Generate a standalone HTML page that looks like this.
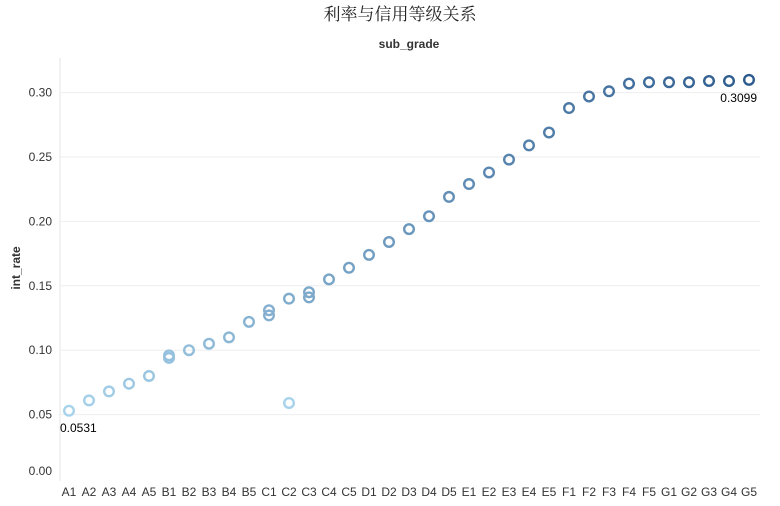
<!DOCTYPE html>
<html><head><meta charset="utf-8"><style>
body{margin:0;background:#fff;}
svg text{font-family:"Liberation Sans","Noto Sans CJK SC",sans-serif;}
</style></head><body>
<svg id="chart" width="780" height="501">
<text x="400" y="20" text-anchor="middle" font-size="17" fill="#222" style="font-family:'Noto Serif CJK SC',serif">利率与信用等级关系</text>
<text x="409" y="48" text-anchor="middle" font-size="12" font-weight="bold" fill="#333">sub_grade</text>
<text transform="translate(20,268) rotate(-90)" text-anchor="middle" font-size="12" font-weight="bold" fill="#333">int_rate</text>
<line x1="60" y1="58" x2="60" y2="481" stroke="#e6e6e6"/>
<g id="grid"></g><g id="ticks"></g><g id="marks"></g>
<text x="60" y="432" font-size="12" fill="#000">0.0531</text>
<text x="757" y="102" text-anchor="end" font-size="12" fill="#000">0.3099</text>
</svg>
<script>
const categories=["A1","A2","A3","A4","A5","B1","B2","B3","B4","B5","C1","C2","C3","C4","C5","D1","D2","D3","D4","D5","E1","E2","E3","E4","E5","F1","F2","F3","F4","F5","G1","G2","G3","G4","G5"];
const rates=[[0.053],[0.061],[0.068],[0.074],[0.080],[0.094,0.096],[0.100],[0.105],[0.110],[0.122],[0.127,0.131],[0.140,0.059],[0.141,0.145],[0.155],[0.164],[0.174],[0.184],[0.194],[0.204],[0.219],[0.229],[0.238],[0.248],[0.259],[0.269],[0.288],[0.297],[0.301],[0.307],[0.308],[0.308],[0.308],[0.309],[0.309],[0.3099]];
const yTicks=[0,0.05,0.10,0.15,0.20,0.25,0.30];
const yTickLabels=["0.00","0.05","0.10","0.15","0.20","0.25","0.30"];
const NS="http://www.w3.org/2000/svg";
const y=v=>479-v*1288;
const x=i=>69+i*20;
const grid=document.getElementById('grid'),ticks=document.getElementById('ticks'),marks=document.getElementById('marks');
yTicks.forEach((t,i)=>{
 if(t>0){const l=document.createElementNS(NS,'line');
 l.setAttribute('x1',60);l.setAttribute('x2',760);l.setAttribute('y1',y(t));l.setAttribute('y2',y(t));
 l.setAttribute('stroke','#eeeeee');
 
 
 grid.appendChild(l);}
 const tx=document.createElementNS(NS,'text');
 tx.setAttribute('x',52);tx.setAttribute('y',Math.min(y(t)+4,475));tx.setAttribute('text-anchor','end');
 tx.setAttribute('font-size','12');tx.setAttribute('fill','#333');tx.textContent=yTickLabels[i];
 
 
 ticks.appendChild(tx);
});
function col(v){const t=Math.max(0,Math.min(1,(v-0.05)/0.26));
 const a=[168,211,236],b=[44,90,140];
 return 'rgb('+a.map((c,k)=>Math.round(c+(b[k]-c)*t)).join(',')+')';}
categories.forEach((c,i)=>{
 const tx=document.createElementNS(NS,'text');
 tx.setAttribute('x',x(i));tx.setAttribute('y',496);tx.setAttribute('text-anchor','middle');
 tx.setAttribute('font-size','12');tx.setAttribute('fill','#333');tx.textContent=c;
 
 
 ticks.appendChild(tx);
 rates[i].forEach(v=>{
  const ci=document.createElementNS(NS,'circle');
  ci.setAttribute('cx',x(i));ci.setAttribute('cy',y(v));ci.setAttribute('r',4.8);
  ci.setAttribute('fill','none');ci.setAttribute('stroke',v<0.06&&i>5?col(0.05):col(i/34*0.26+0.05));ci.setAttribute('stroke-width',2.4);
  
  
  marks.appendChild(ci);
 });
});
</script>
</body></html>
